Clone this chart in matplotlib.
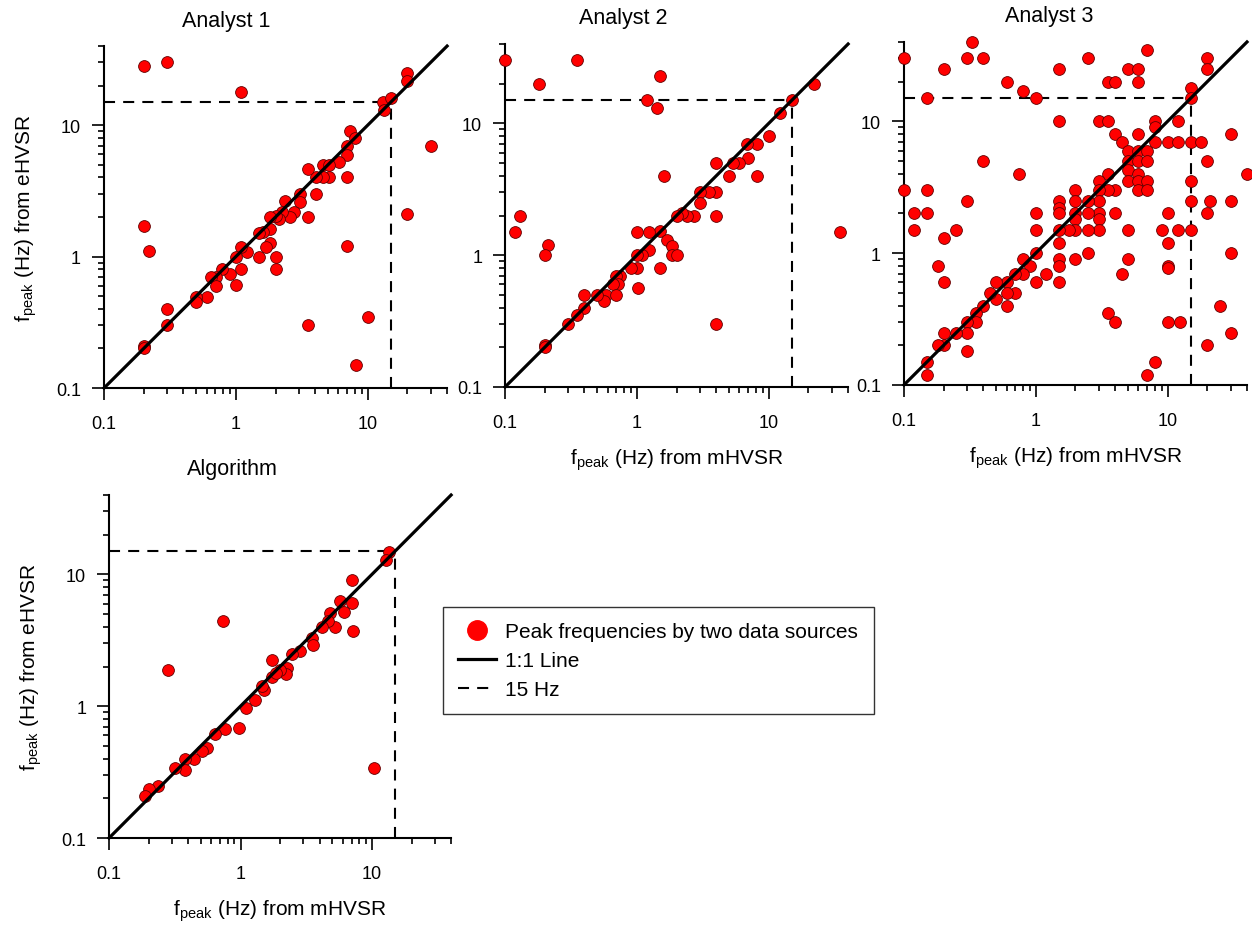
import matplotlib
matplotlib.use('Agg')
import matplotlib.pyplot as plt
from matplotlib.lines import Line2D

plt.rcParams['font.family'] = ['Liberation Sans', 'DejaVu Sans']
plt.rcParams['mathtext.fontset'] = 'custom'
plt.rcParams['mathtext.rm'] = 'Liberation Sans'

# ---- data (mHVSR f_peak vs eHVSR f_peak, Hz) ----
a1_x = [0.2, 0.3, 1.1, 13, 15, 13.3, 20, 20, 30, 20, 0.2, 0.22, 0.2, 0.2, 0.3, 0.3,
        3.5, 10, 8.2, 7, 7, 7.3, 8, 7, 7, 6.1, 4.55, 5.1, 5.1, 4.55, 4.05, 4.05,
        3.5, 3.5, 3.05, 3.05, 2.76, 2.36, 2.56, 2.25, 2.12, 2.0, 1.83, 1.83, 1.61, 1.5,
        1.83, 1.7, 1.51, 2.02, 2.02, 1.21, 1.1, 1.0, 1.1, 1.0, 0.9, 0.79, 0.71, 0.65,
        0.71, 0.6, 0.5, 0.5]
a1_y = [28, 30, 18, 15, 16, 13, 25, 21.6, 7, 2.1, 1.7, 1.1, 0.21, 0.2, 0.4, 0.3,
        0.3, 0.35, 0.15, 1.2, 4.0, 9, 8, 7, 5.9, 5.2, 5.0, 5.0, 4.0, 4.0, 4.0, 3.0,
        4.6, 2.0, 3.0, 2.6, 2.2, 2.66, 2.0, 2.2, 1.93, 2.05, 2.0, 1.62, 1.53, 1.5,
        1.28, 1.18, 1.0, 1.0, 0.8, 1.09, 1.19, 1.0, 0.8, 0.61, 0.74, 0.8, 0.7, 0.7,
        0.6, 0.49, 0.49, 0.45]

a2_x = [0.1, 0.35, 0.18, 1.5, 1.19, 1.42, 22, 15, 12.1, 10, 8.1, 6.9, 7, 6, 5.4, 4.0,
        8.1, 5.0, 4.0, 3.5, 3.0, 3.0, 4.0, 2.72, 2.4, 2.2, 2.0, 1.6, 1.5, 1.23, 1.0,
        1.7, 1.85, 1.85, 2.03, 1.23, 1.1, 1.0, 1.5, 1.0, 0.9, 1.02, 0.75, 0.7, 0.72,
        0.66, 0.58, 0.7, 0.56, 0.5, 0.4, 0.4, 0.35, 0.3, 0.2, 0.2, 0.12, 0.13, 0.21,
        0.2, 4.0, 35]
a2_y = [30, 30, 20, 23, 15, 13, 20, 15, 12, 8, 7, 7, 5.5, 5, 5, 5,
        4, 4, 3, 3, 3, 2.5, 2, 2, 2, 2.1, 2, 4, 1.52, 1.5, 1.5,
        1.3, 1.18, 1.0, 1.0, 1.1, 1.0, 1.0, 0.8, 0.8, 0.8, 0.56, 0.7, 0.7, 0.6,
        0.6, 0.5, 0.5, 0.45, 0.5, 0.5, 0.4, 0.35, 0.3, 0.21, 0.2, 1.5, 2.0, 1.2,
        1.0, 0.3, 1.5]

a3_x = [0.1, 0.2, 0.3, 0.33, 0.4, 0.6, 0.8, 1.0, 0.15, 1.5, 2.5, 3.5, 4, 5, 6, 6, 7, 15, 15, 20, 20,
        1.5, 3, 3.5, 4, 4.5, 5, 5, 5, 5, 6, 6, 6, 6, 6, 6, 7, 7, 7, 7, 8, 8, 8, 10, 12, 12, 15, 18, 30, 20, 40,
        15, 15, 15, 12, 9, 10, 10, 10, 10, 10, 12.5, 21, 20, 30, 30, 25, 30, 20, 8, 7,
        3.5, 4, 4.5, 5, 5, 4, 4, 3.5, 3.5, 3, 3, 3, 3, 3, 3, 2.5, 2.5, 2.5, 2.5, 2, 2, 2, 2, 2, 1.8, 2,
        1.5, 1.5, 1.5, 1.5, 1.5, 1.5, 1.5, 1.5, 1.2, 1, 1, 1, 1, 0.9, 0.8, 0.8, 0.7, 0.7, 0.6, 0.6, 0.6,
        0.5, 0.5, 0.45, 0.4, 0.35, 0.35, 0.3, 0.3, 0.3, 0.25, 0.2, 0.2, 0.18, 0.15, 0.15,
        0.1, 0.12, 0.12, 0.15, 0.15, 0.2, 0.18, 0.2, 0.25, 0.3, 0.4, 0.75]
a3_y = [30, 25, 30, 40, 30, 20, 17, 15, 15, 25, 30, 20, 20, 25, 25, 20, 35, 17.8, 15, 30, 25,
        10, 10, 10, 8, 7, 6, 5, 4.3, 3.5, 8, 6, 5, 4, 3.5, 3, 6, 5, 3.5, 3, 10, 9, 7, 7, 10, 7, 7, 7, 8, 5, 4,
        3.5, 2.5, 1.5, 1.5, 1.5, 2, 1.2, 0.8, 0.77, 0.3, 0.3, 2.5, 2, 2.5, 1.0, 0.4, 0.25, 0.2, 0.15, 0.12,
        0.35, 0.3, 0.7, 0.9, 1.5, 2, 3, 3, 4, 3.5, 3, 2.5, 2, 1.8, 1.5, 2.5, 2, 1.5, 1.0, 3, 2.5, 2, 1.8, 1.5, 1.5, 0.9,
        2.5, 2.2, 2, 1.5, 1.2, 0.9, 0.8, 0.6, 0.7, 2, 1.5, 1, 0.6, 0.8, 0.9, 0.7, 0.7, 0.5, 0.6, 0.5, 0.4,
        0.6, 0.45, 0.5, 0.4, 0.35, 0.3, 0.3, 0.25, 0.18, 0.25, 0.25, 0.2, 0.2, 0.15, 0.12,
        3, 2, 1.5, 3, 2, 1.3, 0.8, 0.6, 1.5, 2.5, 5, 4]

a4_x = [0.28, 0.74, 10.4, 13.5, 12.7, 7.08, 7.2, 5.7, 7.0, 6.1, 4.8, 5.2, 4.65, 4.2,
        3.5, 3.55, 2.83, 2.45, 2.24, 2.2, 2.0, 1.75, 1.75, 1.87, 1.5, 1.47, 1.29, 1.11,
        0.97, 0.76, 0.64, 0.56, 0.51, 0.44, 0.38, 0.38, 0.32, 0.236, 0.2, 0.187]
a4_y = [1.88, 4.4, 0.34, 14.7, 12.8, 9.06, 3.7, 6.3, 6.1, 5.2, 5.1, 4.0, 4.4, 4.0,
        3.3, 2.9, 2.6, 2.5, 1.95, 1.77, 1.88, 2.23, 1.67, 1.8, 1.32, 1.43, 1.12, 0.97,
        0.68, 0.67, 0.61, 0.48, 0.46, 0.40, 0.40, 0.33, 0.34, 0.25, 0.234, 0.21]

titles = ['Analyst 1', 'Analyst 2', 'Analyst 3', 'Algorithm']
major_ticks = [0.1, 1, 10]
major_labels = ['0.1', '1', '10']
minor_ticks = [0.2, 0.3, 0.4, 0.5, 0.6, 0.7, 0.8, 0.9, 2, 3, 4, 5, 6, 7, 8, 9, 20, 30, 40]
one_to_one = [0.1, 40]
cutoff = 15

xlab = 'f$_\\mathregular{peak}$ (Hz) from mHVSR'
ylab = 'f$_\\mathregular{peak}$ (Hz) from eHVSR'

fig = plt.figure(figsize=(12.52, 9.28), dpi=100)
rects = [[0.0831, 0.5808, 0.274, 0.3685],
         [0.4034, 0.5819, 0.274, 0.3696],
         [0.7220, 0.5841, 0.274, 0.3696],
         [0.0871, 0.0959, 0.2732, 0.3696]]
title_x = [0.356, 0.344, 0.423, 0.36]
data = [(a1_x, a1_y), (a2_x, a2_y), (a3_x, a3_y), (a4_x, a4_y)]

for i, (r, (xs, ys)) in enumerate(zip(rects, data)):
    ax = fig.add_axes(r)
    ax.set_xscale('log')
    ax.set_yscale('log')
    ax.scatter(xs, ys, s=72, c='#ff0000', edgecolors='#600000', linewidths=0.6,
               zorder=3, clip_on=False)
    ax.plot(one_to_one, one_to_one, color='black', lw=2.3, zorder=4, clip_on=False)
    ax.plot([0.1, cutoff], [cutoff, cutoff], color='black', lw=1.5,
            dashes=(5.3, 3.9), zorder=2)
    ax.plot([cutoff, cutoff], [0.1, cutoff], color='black', lw=1.5,
            dashes=(5.3, 3.9), zorder=2)
    ax.set_xlim(0.1, 40)
    ax.set_ylim(0.1, 40)
    for axis in (ax.xaxis, ax.yaxis):
        axis.set_ticks(major_ticks, major_labels)
        axis.set_ticks(minor_ticks, minor=True)
        axis.set_minor_formatter(plt.NullFormatter())
    ax.spines['top'].set_visible(False)
    ax.spines['right'].set_visible(False)
    ax.spines['left'].set_linewidth(1.5)
    ax.spines['bottom'].set_linewidth(1.5)
    ax.tick_params(which='major', length=8.5, width=1.2, labelsize=13)
    ax.tick_params(which='minor', length=4.5, width=1.2)
    ax.tick_params(axis='x', which='major', pad=11)
    ax.tick_params(axis='y', which='major', pad=8)
    ax.text(title_x[i], 1.06, titles[i], transform=ax.transAxes, ha='center',
            va='baseline', fontsize=15.5)
    if i in (1, 2, 3):
        ax.set_xlabel(xlab, fontsize=15, labelpad=11)
    if i in (0, 3):
        ax.set_ylabel(ylab, fontsize=15, labelpad=12)

handles = [Line2D([], [], ls='none', marker='o', ms=14, mfc='#ff0000', mec='#ff0000'),
           Line2D([], [], color='black', lw=2.3),
           Line2D([], [], color='black', lw=1.5, dashes=(5.3, 3.9))]
labels = ['Peak frequencies by two data sources', '1:1 Line', '15 Hz']
leg = fig.legend(handles, labels, loc='upper left', bbox_to_anchor=(0.3538, 0.3448),
                 fontsize=15, frameon=True, fancybox=False, edgecolor='black',
                 handlelength=1.8, labelspacing=0.47, borderpad=0.74,
                 handletextpad=0.45, borderaxespad=0)
leg.get_frame().set_linewidth(1.0)

fig.savefig('out.png', dpi=100)
